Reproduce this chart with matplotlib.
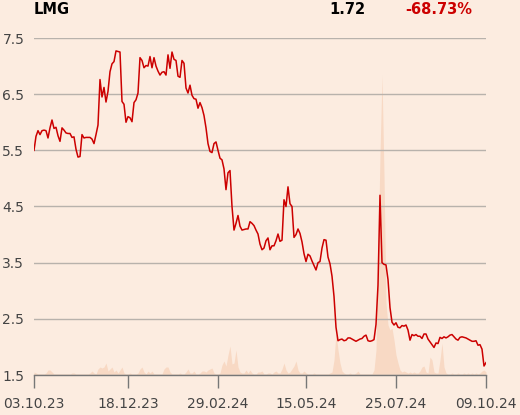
import matplotlib
matplotlib.use("Agg")
import matplotlib.pyplot as plt
import numpy as np

# === DANE ===
ticker = "LMG"
last_price = "1.72"
change_pct = "-68.73%"

# kurs zamknięcia (kolejne sesje)
price = [
    5.50, 5.75, 5.85, 5.78, 5.85, 5.86, 5.85, 5.72, 5.90, 6.04,
    5.89, 5.91, 5.76, 5.66, 5.90, 5.86, 5.81, 5.80, 5.80, 5.73,
    5.74, 5.52, 5.38, 5.39, 5.78, 5.72, 5.73, 5.73, 5.73, 5.70,
    5.62, 5.78, 5.95, 6.76, 6.45, 6.62, 6.36, 6.55, 6.90, 7.04,
    7.08, 7.27, 7.26, 7.25, 6.37, 6.32, 6.00, 6.10, 6.08, 6.01,
    6.35, 6.40, 6.52, 7.15, 7.10, 6.97, 7.01, 7.00, 7.17, 6.97,
    7.15, 7.00, 6.91, 6.84, 6.89, 6.90, 6.84, 7.20, 6.96, 7.25,
    7.12, 7.10, 6.82, 6.80, 7.10, 7.05, 6.61, 6.52, 6.66, 6.48,
    6.42, 6.41, 6.25, 6.35, 6.26, 6.12, 5.90, 5.62, 5.48, 5.46,
    5.62, 5.65, 5.50, 5.36, 5.33, 5.17, 4.80, 5.10, 5.14, 4.50,
    4.08, 4.20, 4.34, 4.15, 4.08, 4.09, 4.10, 4.10, 4.23, 4.20,
    4.16, 4.08, 4.01, 3.83, 3.73, 3.76, 3.89, 3.94, 3.73, 3.80,
    3.80, 3.89, 4.01, 3.88, 3.90, 4.62, 4.50, 4.85, 4.55, 4.50,
    3.95, 4.00, 4.10, 4.02, 3.87, 3.66, 3.52, 3.65, 3.62, 3.53,
    3.45, 3.37, 3.50, 3.52, 3.76, 3.91, 3.90, 3.60, 3.48, 3.26,
    2.90, 2.35, 2.11, 2.13, 2.14, 2.11, 2.12, 2.16, 2.16, 2.14,
    2.12, 2.10, 2.12, 2.14, 2.15, 2.19, 2.21, 2.11, 2.10, 2.11,
    2.13, 2.40, 3.10, 4.70, 3.50, 3.47, 3.46, 3.20, 2.70, 2.44,
    2.39, 2.43, 2.35, 2.34, 2.38, 2.37, 2.39, 2.30, 2.12, 2.22,
    2.20, 2.22, 2.19, 2.19, 2.15, 2.23, 2.23, 2.14, 2.09, 2.04,
    1.99, 2.07, 2.06, 2.17, 2.15, 2.18, 2.16, 2.18, 2.21, 2.22,
    2.18, 2.14, 2.12, 2.17, 2.18, 2.17, 2.16, 2.14, 2.12, 2.10,
    2.10, 2.11, 2.03, 2.04, 1.96, 1.66, 1.72,
]

# wolumen (tys. szt.)
volume = [
    3, 2, 1, 1, 1, 1, 2, 5, 5, 3,
    1, 1, 1, 1, 1, 1, 1, 1, 1, 2,
    2, 1, 1, 1, 1, 1, 1, 1, 2, 4,
    2, 1, 6, 8, 7, 8, 12, 4, 6, 8,
    3, 5, 2, 5, 8, 2, 1, 1, 2, 1,
    1, 1, 2, 6, 8, 3, 1, 4, 2, 4,
    1, 1, 1, 1, 1, 6, 8, 8, 3, 1,
    1, 1, 1, 2, 1, 1, 3, 6, 2, 2,
    4, 1, 1, 2, 4, 4, 3, 5, 6, 7,
    2, 1, 1, 2, 10, 14, 9, 20, 29, 11,
    12, 25, 8, 3, 2, 2, 5, 2, 5, 2,
    1, 1, 3, 3, 4, 1, 1, 2, 2, 1,
    3, 4, 2, 2, 6, 12, 5, 2, 3, 6,
    9, 14, 5, 2, 2, 4, 2, 1, 1, 1,
    2, 1, 1, 1, 1, 1, 1, 1, 2, 3,
    15, 42, 25, 12, 4, 2, 1, 1, 2, 1,
    1, 2, 4, 1, 1, 1, 1, 1, 1, 1,
    5, 25, 120, 220, 300, 200, 72, 50, 45, 47,
    35, 20, 12, 5, 3, 4, 3, 2, 3, 2,
    3, 2, 2, 4, 8, 9, 3, 2, 18, 15,
    3, 2, 2, 15, 32, 8, 2, 1, 1, 2,
    1, 1, 2, 1, 1, 2, 1, 2, 1, 2,
    1, 2, 1, 2, 4, 5, 3,
]

tick_idx = [0, 47, 92, 136, 181, 226]
tick_labels = ["03.10.23", "18.12.23", "29.02.24", "15.05.24", "25.07.24", "09.10.24"]
y_ticks = [1.5, 2.5, 3.5, 4.5, 5.5, 6.5, 7.5]

# === KOLORY ===
bg = "#fcece0"
red = "#cc0000"
vol_color = "#f8d9c4"
grid_color = "#b8b2ac"
text_color = "#444444"

x = np.arange(len(price))

fig = plt.figure(figsize=(5.2, 4.15), dpi=100, facecolor=bg)
rect = [34 / 520, 1 - 375 / 415, 452 / 520, 337 / 415]

# wolumen w tle
ax_vol = fig.add_axes(rect, facecolor=bg)
ax_vol.fill_between(x, 0, volume, color=vol_color, linewidth=0)
ax_vol.set_xlim(0, len(price) - 1)
ax_vol.set_ylim(0, max(volume) * 337 / 300)
ax_vol.axis("off")

# kurs
ax = fig.add_axes(rect, facecolor="none")
ax.plot(x, price, color=red, linewidth=1.1)
ax.set_xlim(0, len(price) - 1)
ax.set_ylim(1.5, 7.5)
ax.set_yticks(y_ticks)
ax.set_yticklabels([f"{v:.1f}" for v in y_ticks])
ax.set_xticks(tick_idx)
ax.set_xticklabels(tick_labels)
ax.grid(axis="y", color=grid_color, linewidth=1.0)
ax.set_axisbelow(True)
for s in ["top", "right", "left"]:
    ax.spines[s].set_visible(False)
ax.spines["bottom"].set_color("#777777")
ax.spines["bottom"].set_linewidth(1.0)
ax.tick_params(axis="y", length=0, pad=7, labelsize=10, labelcolor=text_color)
ax.tick_params(axis="x", length=9.5, width=1.0, color="#777777", pad=6,
               labelsize=10, labelcolor=text_color)

# nagłówek
fig.text(34 / 520, 1 - 10 / 415, ticker, fontsize=10.5, fontweight="bold",
         color="black", ha="left", va="center")
fig.text(365 / 520, 1 - 10 / 415, last_price, fontsize=10.5, fontweight="bold",
         color="black", ha="right", va="center")
fig.text(472 / 520, 1 - 10 / 415, change_pct, fontsize=10.5, fontweight="bold",
         color=red, ha="right", va="center")

fig.savefig("out.png", dpi=100, facecolor=bg)
